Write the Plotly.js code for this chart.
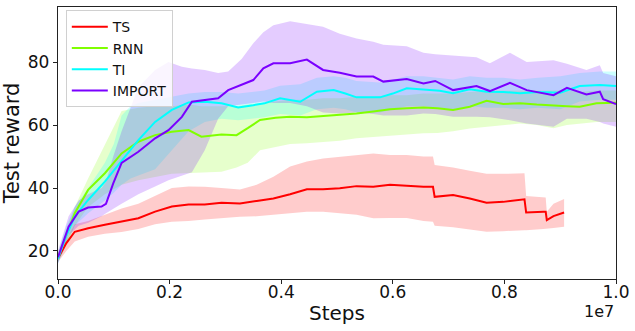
<!DOCTYPE html>
<html>
<head>
<meta charset="utf-8">
<script src="https://cdn.plot.ly/plotly-3.0.1.min.js"></script>
<style>
  body { margin: 0; background: white; }
  #chart { width: 635px; height: 331px; }
</style>
</head>
<body>
<div id="chart"></div>
<script>
// Steps are in units of 1e7 (matplotlib offset label)
const tsX = [0, 0.015, 0.03, 0.054, 0.084, 0.114, 0.144, 0.174, 0.204, 0.234, 0.263, 0.293, 0.326, 0.356, 0.386, 0.416, 0.446, 0.475, 0.505, 0.535, 0.565, 0.595, 0.625, 0.655, 0.672, 0.675, 0.708, 0.738, 0.768, 0.798, 0.836, 0.839, 0.870, 0.874, 0.876, 0.888, 0.907];
const tsMean = [17.7, 22.5, 26.1, 27.2, 28.3, 29.3, 30.4, 32.5, 34.1, 34.8, 34.8, 35.3, 35.1, 35.9, 36.7, 38.0, 39.6, 39.6, 39.9, 40.6, 40.4, 41.0, 40.6, 40.4, 40.4, 37.2, 37.8, 36.7, 35.3, 35.6, 36.4, 32.2, 32.5, 32.5, 29.8, 31.1, 32.2];
const tsHi = [19, 24, 28.5, 29.5, 31.5, 33.5, 35, 37.5, 40, 40.5, 40.4, 40, 39.5, 41, 43.6, 46.8, 48.4, 49.4, 50, 50.5, 51, 50.5, 50.5, 50, 50, 47.3, 46.5, 45.5, 44.5, 44.5, 44.7, 37.5, 37, 37, 32.5, 35, 36.5];
const tsLo = [16.5, 20, 23, 24.5, 25.5, 26, 27, 28.5, 29.3, 29.5, 30, 30.5, 30.9, 31, 31.5, 32, 32.5, 32.5, 32, 31.5, 30.4, 30.5, 30.5, 29.5, 29.3, 28, 27.5, 26.8, 26.1, 26.3, 26.6, 26.6, 27, 27, 27, 27.3, 27.7];

const rnnX = [0, 0.015, 0.03, 0.054, 0.084, 0.114, 0.144, 0.174, 0.204, 0.234, 0.257, 0.293, 0.320, 0.340, 0.362, 0.390, 0.416, 0.446, 0.475, 0.505, 0.535, 0.565, 0.595, 0.625, 0.655, 0.680, 0.708, 0.738, 0.768, 0.798, 0.828, 0.858, 0.888, 0.912, 0.935, 0.965, 1.0];
const rnnMean = [18, 25, 32, 39.4, 44.7, 51, 54.7, 56.8, 57.9, 58.4, 56.3, 57, 56.8, 59, 61.6, 62.3, 62.6, 62.5, 62.9, 63.2, 63.7, 64.3, 65, 65.3, 65.6, 65.3, 64.8, 65.8, 67.7, 66.7, 66.9, 66.5, 66.1, 66, 65.8, 66.9, 67.1];
const rnnHi = [19.5, 27, 34, 43, 54, 64.5, 65.5, 66, 66, 66.5, 66, 66, 66, 66.5, 67, 67.5, 68, 68, 68.5, 68.5, 69, 69, 69.5, 69.5, 70, 70, 70, 70.5, 71, 71, 71, 71, 71, 71, 70.5, 71, 71];
const rnnLo = [16.5, 22, 28, 34, 38, 41, 42.5, 43.5, 44.5, 44.7, 45, 45.2, 46.5, 48, 52, 53, 54, 54.2, 54.5, 55, 55.8, 56, 56.5, 57, 57.4, 57.5, 58, 58.9, 59.5, 60, 60.5, 60, 59, 60, 60.5, 61, 61];

const tiX = [0, 0.015, 0.03, 0.054, 0.084, 0.1, 0.114, 0.13, 0.144, 0.174, 0.204, 0.234, 0.263, 0.293, 0.323, 0.350, 0.370, 0.398, 0.434, 0.464, 0.494, 0.515, 0.535, 0.577, 0.600, 0.625, 0.655, 0.684, 0.708, 0.738, 0.768, 0.798, 0.828, 0.860, 0.900, 0.935, 0.971, 1.0];
const tiMean = [17.5, 25, 30.9, 36.2, 42, 45.5, 48.5, 52, 55.2, 61, 64.8, 67.2, 67.4, 66.9, 65.6, 66.3, 66.9, 68.5, 67.4, 70.6, 71.1, 70, 68.8, 68.8, 70, 71.7, 71.4, 70.9, 70.1, 71.4, 70.6, 70.5, 70.1, 70.5, 70.3, 72.4, 72.7, 72.4];
const tiHi = [19.5, 28, 34, 40, 48, 54, 63, 66, 67, 68, 69, 70, 70.5, 70.5, 70, 70.5, 71, 72.5, 73, 75, 75.5, 75, 74, 73.5, 74.5, 75.5, 75.5, 75, 74.5, 75.5, 75, 75, 74.5, 75, 75.5, 76.5, 77, 77];
const tiLo = [16, 22, 28, 32, 36, 38.5, 41, 43, 44, 46, 52, 58, 61, 62, 61.5, 62, 62.5, 63.5, 63, 65, 65.5, 65, 64, 64, 65, 66, 66, 65.5, 65, 66, 65.5, 65.5, 65, 65.5, 65, 67.5, 68, 68];

const impX = [0, 0.019, 0.037, 0.054, 0.078, 0.086, 0.099, 0.114, 0.144, 0.174, 0.198, 0.222, 0.240, 0.263, 0.287, 0.305, 0.329, 0.350, 0.368, 0.386, 0.416, 0.446, 0.475, 0.505, 0.535, 0.565, 0.583, 0.625, 0.655, 0.676, 0.708, 0.750, 0.774, 0.810, 0.840, 0.888, 0.912, 0.947, 0.971, 0.977, 1.0];
const impMean = [18, 27.7, 32.5, 33.8, 34.1, 35, 41.5, 48, 51.5, 55.8, 58.4, 62.6, 67.4, 67.9, 68.5, 71.1, 72.7, 74.3, 78, 79.6, 79.6, 80.8, 77.5, 76.6, 75.4, 75.4, 73.8, 74.6, 73.2, 74, 71.1, 72.4, 70.8, 73.4, 71.1, 69.5, 71.8, 69.7, 70.6, 68.2, 66.7];
const impHi = [20, 31, 36, 38, 40, 42, 50, 58, 72, 77.5, 80, 78.5, 78, 77.5, 76.5, 77, 81, 86, 89.5, 91.7, 93, 92, 91.2, 89, 87.5, 86.5, 85.5, 85, 83, 82.5, 82, 81.5, 79.6, 83, 80, 80.6, 79.5, 77.5, 79, 76.5, 75.5];
const impLo = [16, 25, 28, 29, 31, 32, 33.5, 35, 38, 40.5, 42.5, 44, 45, 52, 62, 66, 66.5, 67, 67.5, 67, 67, 66, 64, 63.7, 64, 63.5, 63, 63, 63.7, 63.5, 62.6, 62.6, 62.5, 61.5, 60.5, 59.5, 62, 62, 61, 60.5, 59.5];

const nombres = ['TS', 'RNN', 'TI', 'IMPORT'];
const colores = ['#ff0000', '#80ff00', '#00ffff', '#7a00ff'];
const rellenos = ['rgba(255,0,0,0.2)', 'rgba(128,255,0,0.2)', 'rgba(0,255,255,0.2)', 'rgba(122,0,255,0.2)'];

const series = [
    [tsX, tsMean, tsHi, tsLo],
    [rnnX, rnnMean, rnnHi, rnnLo],
    [tiX, tiMean, tiHi, tiLo],
    [impX, impMean, impHi, impLo]
];

// Bandas (fill_between) primero, lineas encima
const trazas = [];
series.forEach((s, i) => {
    const [x, , hi, lo] = s;
    trazas.push({
        x: x.concat(x.slice().reverse()),
        y: hi.concat(lo.slice().reverse()),
        type: 'scatter',
        mode: 'lines',
        fill: 'toself',
        fillcolor: rellenos[i],
        line: {width: 0},
        hoverinfo: 'skip',
        showlegend: false
    });
});
series.forEach((s, i) => {
    trazas.push({
        x: s[0],
        y: s[1],
        type: 'scatter',
        mode: 'lines',
        name: nombres[i],
        line: {color: colores[i], width: 2}
    });
});

const fuente = 'DejaVu Sans, sans-serif';
const layout = {
    width: 635,
    height: 331,
    margin: {l: 58, r: 19, t: 7, b: 52},
    paper_bgcolor: 'white',
    plot_bgcolor: 'white',
    font: {family: fuente, color: '#111'},
    showlegend: true,
    legend: {
        x: 0.014, y: 0.988, xanchor: 'left', yanchor: 'top',
        bgcolor: 'rgba(255,255,255,0.8)',
        bordercolor: '#d0d0d0', borderwidth: 1,
        font: {family: fuente, size: 14, color: '#111'},
        itemwidth: 36,
        tracegroupgap: 0
    },
    xaxis: {
        range: [0, 1],
        tickvals: [0, 0.2, 0.4, 0.6, 0.8, 1.0],
        ticktext: ['0.0', '0.2', '0.4', '0.6', '0.8', '1.0'],
        ticks: 'outside', ticklen: 4, tickwidth: 1, tickcolor: '#222',
        ticklabelstandoff: -7,
        tickfont: {size: 17, family: fuente},
        showline: true, mirror: true, linecolor: '#222', linewidth: 1.2,
        showgrid: false, zeroline: false,
        title: {text: 'Steps', font: {size: 20, family: fuente}, standoff: 5}
    },
    yaxis: {
        range: [11.1, 97.5],
        tickvals: [20, 40, 60, 80],
        ticks: 'outside', ticklen: 4, tickwidth: 1, tickcolor: '#222',
        tickfont: {size: 17, family: fuente},
        showline: true, mirror: true, linecolor: '#222', linewidth: 1.2,
        showgrid: false, zeroline: false,
        title: {text: 'Test reward', font: {size: 21, family: fuente}, standoff: 5}
    },
    annotations: [{
        text: '1e7', xref: 'paper', yref: 'paper', x: 1, y: -0.118,
        xanchor: 'right', yanchor: 'middle', showarrow: false,
        font: {size: 16, family: fuente, color: '#111'}
    }]
};

Plotly.newPlot('chart', trazas, layout, {displayModeBar: false, staticPlot: true});
</script>
</body>
</html>
